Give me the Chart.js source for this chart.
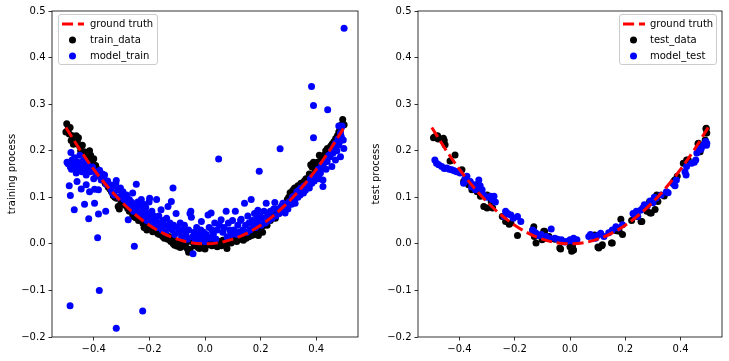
<!DOCTYPE html>
<html><head><meta charset="utf-8">
<script src="https://cdn.jsdelivr.net/npm/chart.js@4/dist/chart.umd.min.js"></script>
<style>
html,body{margin:0;padding:0;background:#fff;}
#wrap{position:relative;width:729px;height:361px;overflow:hidden;background:#fff;}
canvas{position:absolute;top:0;}
.legend{position:absolute;border:1px solid #cccccc;border-radius:3px;background:rgba(255,255,255,0.8);font:10px "DejaVu Sans",sans-serif;color:#000;box-sizing:border-box;}
.row{position:absolute;left:0;width:100%;height:16px;}
.row svg{position:absolute;left:3px;top:0;}
.row span{position:absolute;top:0;line-height:16px;white-space:nowrap;}
</style></head>
<body>
<div id="wrap">
<canvas id="c1" width="364" height="361" style="left:0;width:364px;height:361px"></canvas>
<canvas id="c2" width="365" height="361" style="left:364px;width:365px;height:361px"></canvas>
<div class="legend" style="left:58px;top:14px;width:100px;height:51px">
 <div class="row" style="top:1px"><svg width="22" height="16"><line x1="0" y1="8" x2="22" y2="8" stroke="#ff0000" stroke-width="3" stroke-dasharray="11.1,4.8"/></svg><span style="left:31px">ground truth</span></div>
 <div class="row" style="top:17px"><svg width="22" height="16"><circle cx="10.5" cy="8" r="3.5" fill="#000"/></svg><span style="left:31px">train_data</span></div>
 <div class="row" style="top:33px"><svg width="22" height="16"><circle cx="10.5" cy="8" r="3.5" fill="#0000ff"/></svg><span style="left:31px">model_train</span></div>
</div>
<div class="legend" style="left:619px;top:14px;width:98px;height:51px">
 <div class="row" style="top:1px"><svg width="22" height="16"><line x1="0" y1="8" x2="22" y2="8" stroke="#ff0000" stroke-width="3" stroke-dasharray="11.1,4.8"/></svg><span style="left:30px">ground truth</span></div>
 <div class="row" style="top:17px"><svg width="22" height="16"><circle cx="10.5" cy="8" r="3.5" fill="#000"/></svg><span style="left:30px">test_data</span></div>
 <div class="row" style="top:33px"><svg width="22" height="16"><circle cx="10.5" cy="8" r="3.5" fill="#0000ff"/></svg><span style="left:30px">model_test</span></div>
</div>
</div>
<script>
// ---- tick labels ----
const xTicks = [-0.4, -0.2, 0.0, 0.2, 0.4];
const yTicks = [-0.2, -0.1, 0.0, 0.1, 0.2, 0.3, 0.4, 0.5];

// ---- ground truth curve (y = x^2) ----
const gtX = [-0.5,-0.45,-0.4,-0.35,-0.3,-0.25,-0.2,-0.15,-0.1,-0.05,0,0.05,0.1,0.15,0.2,0.25,0.3,0.35,0.4,0.45,0.5];
const gtY = [0.25,0.2025,0.16,0.1225,0.09,0.0625,0.04,0.0225,0.01,0.0025,0,0.0025,0.01,0.0225,0.04,0.0625,0.09,0.1225,0.16,0.2025,0.25];

// ---- training: observed data ----
const trainData = [
[-0.5,0.24],[-0.497,0.258],[-0.492,0.246],[-0.488,0.236],[-0.485,0.25],[-0.481,0.222],[-0.477,0.232],[-0.473,0.214],[-0.469,0.226],[-0.463,0.232],[-0.459,0.22],[-0.455,0.228],[-0.451,0.21],[-0.447,0.2],[-0.441,0.212],[-0.435,0.198],[-0.429,0.19],[-0.425,0.196],[-0.421,0.185],[-0.415,0.2],[-0.411,0.19],[-0.405,0.178],[-0.4,0.183],[-0.393,0.168],[-0.387,0.16],[-0.381,0.152],[-0.375,0.148],[-0.37,0.145],[-0.365,0.138],[-0.359,0.13],[-0.353,0.128],[-0.348,0.122],[-0.342,0.118],[-0.336,0.112],[-0.33,0.104],[-0.324,0.1],[-0.318,0.098],[-0.312,0.08],[-0.308,0.075],[-0.302,0.088],[-0.296,0.085],[-0.29,0.09],[-0.284,0.082],[-0.278,0.076],[-0.272,0.07],[-0.266,0.072],[-0.26,0.062],[-0.255,0.058],[-0.249,0.056],[-0.244,0.064],[-0.239,0.05],[-0.233,0.058],[-0.227,0.052],[-0.223,0.044],[-0.219,0.035],[-0.214,0.04],[-0.209,0.03],[-0.204,0.046],[-0.199,0.038],[-0.193,0.032],[-0.188,0.026],[-0.182,0.034],[-0.176,0.03],[-0.17,0.022],[-0.164,0.02],[-0.158,0.026],[-0.152,0.016],[-0.146,0.012],[-0.14,0.02],[-0.134,0.01],[-0.128,0.015],[-0.123,0.005],[-0.118,0.01],[-0.114,0.0],[-0.109,-0.003],[-0.104,0.006],[-0.099,-0.005],[-0.094,0.0],[-0.089,-0.008],[-0.084,0.01],[-0.079,0.004],[-0.074,-0.005],[-0.069,0.002],[-0.064,-0.01],[-0.059,-0.018],[-0.054,-0.012],[-0.049,0.005],[-0.044,0.01],[-0.039,-0.004],[-0.035,0.0],[-0.03,0.008],[-0.025,-0.008],[-0.02,-0.01],[-0.015,0.002],[-0.01,-0.006],[-0.005,0.01],[0.0,-0.011],[0.005,0.004],[0.01,-0.002],[0.015,0.0],[0.02,0.008],[0.025,-0.004],[0.03,0.004],[0.035,-0.002],[0.039,0.01],[0.044,-0.006],[0.049,0.005],[0.054,0.0],[0.059,-0.004],[0.064,0.008],[0.069,0.003],[0.074,0.0],[0.079,-0.01],[0.084,0.006],[0.089,0.012],[0.094,0.002],[0.099,0.006],[0.104,0.01],[0.109,0.018],[0.114,0.005],[0.118,0.012],[0.123,0.02],[0.128,0.01],[0.133,0.016],[0.138,0.008],[0.143,0.022],[0.148,0.012],[0.153,0.02],[0.158,0.015],[0.163,0.03],[0.168,0.018],[0.173,0.025],[0.178,0.02],[0.183,0.03],[0.188,0.022],[0.192,0.018],[0.197,0.028],[0.202,0.035],[0.207,0.025],[0.212,0.04],[0.217,0.045],[0.223,0.04],[0.229,0.055],[0.235,0.05],[0.241,0.056],[0.247,0.06],[0.253,0.055],[0.259,0.07],[0.265,0.065],[0.27,0.075],[0.276,0.07],[0.281,0.085],[0.286,0.08],[0.292,0.088],[0.296,0.095],[0.301,0.1],[0.306,0.11],[0.311,0.105],[0.316,0.115],[0.322,0.12],[0.328,0.11],[0.334,0.125],[0.34,0.12],[0.345,0.13],[0.351,0.128],[0.357,0.135],[0.363,0.14],[0.369,0.14],[0.375,0.15],[0.38,0.17],[0.385,0.165],[0.39,0.175],[0.395,0.16],[0.4,0.168],[0.405,0.175],[0.411,0.19],[0.417,0.18],[0.422,0.185],[0.428,0.19],[0.434,0.2],[0.44,0.205],[0.446,0.196],[0.452,0.21],[0.458,0.215],[0.464,0.22],[0.47,0.226],[0.476,0.232],[0.481,0.24],[0.486,0.246],[0.49,0.255],[0.495,0.267],[0.5,0.256]
];

// ---- training: model output ----
const modelTrain = [
[-0.496,0.175],[-0.492,0.172],[-0.488,0.125],[-0.485,-0.133],[-0.484,0.104],[-0.484,0.165],[-0.482,0.196],[-0.48,0.16],[-0.478,0.18],[-0.474,0.17],[-0.47,0.073],[-0.469,0.185],[-0.466,0.165],[-0.463,0.152],[-0.46,0.134],[-0.457,0.175],[-0.454,0.16],[-0.45,0.19],[-0.447,0.17],[-0.445,0.118],[-0.442,0.155],[-0.438,0.178],[-0.433,0.085],[-0.433,0.166],[-0.429,0.16],[-0.427,0.148],[-0.427,0.127],[-0.422,0.17],[-0.418,0.054],[-0.415,0.112],[-0.412,0.155],[-0.409,0.159],[-0.404,0.165],[-0.4,0.14],[-0.397,0.087],[-0.397,0.117],[-0.393,0.155],[-0.391,0.145],[-0.386,0.013],[-0.383,0.064],[-0.383,0.116],[-0.38,-0.1],[-0.379,0.158],[-0.373,0.137],[-0.369,0.15],[-0.365,0.14],[-0.361,0.148],[-0.357,0.07],[-0.355,0.128],[-0.35,0.135],
[-0.342,0.127],[-0.338,0.118],[-0.333,0.11],[-0.33,0.125],[-0.326,0.105],[-0.321,0.13],[-0.319,-0.181],[-0.319,0.136],[-0.313,0.116],[-0.309,0.1],[-0.304,0.12],[-0.3,0.105],[-0.295,0.112],[-0.291,0.095],[-0.286,0.1],[-0.282,0.105],[-0.278,0.085],[-0.276,0.052],[-0.272,0.095],[-0.268,0.078],[-0.265,0.09],[-0.26,0.109],[-0.257,0.07],[-0.254,-0.005],[-0.252,0.085],[-0.247,0.128],[-0.245,0.075],[-0.242,0.09],[-0.237,0.065],[-0.233,0.08],[-0.229,0.095],[-0.225,0.07],[-0.224,-0.144],[-0.221,0.085],[-0.217,0.06],[-0.213,0.078],[-0.209,0.05],[-0.205,0.065],[-0.201,0.09],[-0.199,0.098],
[-0.195,0.055],[-0.191,0.07],[-0.188,0.045],[-0.184,0.06],[-0.18,0.04],[-0.176,0.052],[-0.174,0.095],[-0.17,0.035],[-0.166,0.06],[-0.162,0.045],[-0.158,0.073],[-0.154,0.03],[-0.15,0.05],[-0.146,0.04],[-0.142,0.025],[-0.138,0.055],[-0.133,0.08],[-0.13,0.035],[-0.126,0.045],[-0.121,0.091],[-0.118,0.03],[-0.115,0.12],[-0.113,0.04],[-0.109,0.02],[-0.104,0.065],[-0.099,0.035],[-0.094,0.025],[-0.089,0.045],[-0.084,0.015],[-0.079,0.03],[-0.074,0.04],[-0.069,0.02],[-0.064,0.01],[-0.059,0.03],[-0.054,0.065],[-0.051,0.07],[-0.049,0.057],[-0.045,0.015],[-0.043,-0.021],[-0.039,0.025],[-0.035,0.005],[-0.03,0.035],[-0.025,0.02],[-0.02,0.01],[-0.015,0.03],[-0.013,0.048],[-0.01,0.015],[-0.005,0.025],[0.0,0.005],[0.005,0.02],[0.011,0.062],[0.015,0.035],[0.02,0.012],[0.022,0.066],[0.025,0.03],[0.03,0.02],[0.035,0.045],[0.039,0.01],[0.044,0.03],[0.049,0.182],[0.052,0.04],[0.058,0.052],[0.064,0.025],[0.069,0.035],[0.076,0.07],[0.079,0.015],[0.084,0.045],[0.089,0.03],[0.094,0.02],[0.099,0.05],
[0.104,0.03],[0.109,0.07],[0.114,0.02],[0.118,0.04],[0.123,0.025],[0.128,0.05],[0.13,0.053],[0.136,0.03],[0.142,0.087],[0.146,0.04],[0.15,0.025],[0.154,0.06],[0.158,0.045],[0.162,0.03],[0.166,0.095],[0.17,0.05],[0.174,0.04],[0.178,0.065],[0.182,0.035],[0.186,0.055],[0.19,0.072],[0.192,0.045],[0.195,0.156],[0.197,0.06],[0.202,0.04],[0.207,0.055],[0.212,0.07],[0.217,0.045],[0.22,0.087],[0.225,0.06],[0.229,0.05],[0.235,0.07],[0.241,0.055],[0.247,0.075],[0.251,0.089],[0.255,0.06],[0.261,0.075],[0.266,0.065],[0.27,0.204],[0.274,0.08],[0.28,0.087],[0.284,0.07],[0.288,0.066],[0.294,0.08],
[0.298,0.075],[0.302,0.09],[0.306,0.091],[0.311,0.085],[0.314,0.1],[0.318,0.102],[0.322,0.095],[0.324,0.087],[0.328,0.105],[0.33,0.112],[0.334,0.1],[0.338,0.115],[0.342,0.105],[0.345,0.12],[0.35,0.11],[0.354,0.109],[0.357,0.125],[0.361,0.115],[0.366,0.123],[0.37,0.13],[0.375,0.12],[0.379,0.14],[0.383,0.338],[0.384,0.13],[0.388,0.145],[0.39,0.297],[0.39,0.228],[0.393,0.135],[0.397,0.15],[0.403,0.145],[0.407,0.16],[0.411,0.14],[0.415,0.152],[0.42,0.17],[0.424,0.137],[0.424,0.123],[0.427,0.163],[0.431,0.175],[0.435,0.16],[0.439,0.177],[0.441,0.288],[0.445,0.19],[0.45,0.187],[0.454,0.2],[0.456,0.166],[0.46,0.195],[0.464,0.21],[0.469,0.18],[0.469,0.216],[0.474,0.2],[0.478,0.225],[0.481,0.213],[0.481,0.253],[0.484,0.22],[0.487,0.187],[0.487,0.238],[0.49,0.23],[0.493,0.253],[0.497,0.223],[0.499,0.205],[0.5,0.463]
];

// ---- test: observed data ----
const testData = [
[-0.494,0.228],[-0.489,0.23],[-0.479,0.232],[-0.477,0.225],[-0.458,0.227],[-0.455,0.222],[-0.452,0.213],[-0.434,0.178],[-0.416,0.191],[-0.391,0.159],[-0.385,0.134],[-0.367,0.127],[-0.355,0.116],[-0.336,0.112],[-0.333,0.128],[-0.324,0.102],[-0.312,0.08],[-0.3,0.077],[-0.3,0.105],[-0.285,0.091],[-0.28,0.077],[-0.245,0.059],[-0.233,0.048],[-0.22,0.042],[-0.214,0.045],[-0.19,0.018],[-0.135,0.03],[-0.131,0.037],[-0.129,0.016],[-0.123,0.002],[-0.101,0.009],[-0.095,0.027],[-0.092,0.027],[-0.086,0.012],[-0.076,0.016],[-0.055,0.01],[-0.037,-0.009],[-0.034,-0.011],[0.0,-0.006],[0.006,-0.016],[0.009,-0.005],[0.013,-0.013],[0.089,0.019],[0.101,-0.007],[0.104,-0.009],[0.115,-0.004],[0.117,-0.002],[0.15,0.002],[0.153,0.002],[0.168,0.028],[0.178,0.027],[0.184,0.053],[0.19,0.02],[0.223,0.05],[0.245,0.059],[0.257,0.048],[0.26,0.048],[0.278,0.07],[0.288,0.091],[0.29,0.066],[0.294,0.066],[0.308,0.074],[0.314,0.105],[0.318,0.091],[0.341,0.103],[0.375,0.134],[0.379,0.137],[0.388,0.145],[0.41,0.173],[0.422,0.18],[0.428,0.18],[0.463,0.215],[0.465,0.216],[0.471,0.198],[0.473,0.209],[0.489,0.223],[0.492,0.247],[0.493,0.248],[0.495,0.238]
];

// ---- test: model output ----
const modelTest = [
[-0.489,0.18],[-0.483,0.173],[-0.475,0.17],[-0.464,0.166],[-0.455,0.162],[-0.446,0.163],[-0.437,0.16],[-0.428,0.159],[-0.419,0.157],[-0.41,0.155],[-0.398,0.152],[-0.385,0.13],[-0.38,0.14],[-0.373,0.145],[-0.361,0.134],[-0.356,0.122],[-0.348,0.127],[-0.342,0.116],[-0.33,0.137],[-0.325,0.125],[-0.318,0.116],[-0.312,0.105],[-0.3,0.1],[-0.287,0.102],[-0.281,0.095],[-0.275,0.102],[-0.27,0.09],[-0.238,0.059],[-0.233,0.07],[-0.225,0.065],[-0.214,0.062],[-0.205,0.055],[-0.19,0.059],[-0.178,0.048],[-0.135,0.03],[-0.128,0.025],[-0.123,0.023],[-0.115,0.018],[-0.104,0.02],[-0.095,0.015],[-0.086,0.016],[-0.075,0.012],[-0.068,0.032],[-0.055,0.012],[-0.045,0.01],[-0.031,0.009],[-0.02,0.004],[-0.013,0.005],[0.0,0.009],[0.008,0.006],[0.013,0.012],[0.025,0.009],[0.068,0.016],[0.074,0.02],[0.085,0.015],[0.092,0.012],[0.1,0.018],[0.111,0.023],[0.123,0.016],[0.14,0.024],[0.153,0.03],[0.166,0.037],[0.175,0.034],[0.19,0.041],[0.228,0.065],[0.233,0.062],[0.24,0.07],[0.245,0.059],[0.255,0.072],[0.263,0.077],[0.269,0.084],[0.28,0.082],[0.29,0.092],[0.3,0.088],[0.305,0.1],[0.312,0.098],[0.33,0.105],[0.349,0.112],[0.355,0.11],[0.373,0.13],[0.375,0.128],[0.38,0.125],[0.385,0.137],[0.416,0.155],[0.42,0.148],[0.422,0.166],[0.44,0.173],[0.45,0.175],[0.455,0.18],[0.459,0.195],[0.465,0.205],[0.471,0.202],[0.475,0.205],[0.483,0.212],[0.488,0.215],[0.491,0.22],[0.494,0.212],[0.495,0.216]
];

const toPts = arr => arr.map(p => ({x: p[0], y: p[1]}));
const gtPts = gtX.map((x, i) => ({x: x, y: gtY[i]}));

function fmt(v) {
  const s = Math.abs(v).toFixed(1);
  return v < -1e-9 ? '\u2212' + s : s;
}

const framePlugin = {
  id: 'frame',
  afterDraw(chart) {
    const {ctx, chartArea: a} = chart;
    ctx.save();
    ctx.strokeStyle = '#000';
    ctx.lineWidth = 0.8;
    ctx.strokeRect(a.left, a.top, a.right - a.left, a.bottom - a.top);
    ctx.restore();
  }
};

const FONT = {family: 'DejaVu Sans', size: 10};

function makeChart(id, dataPts, modelPts, yTitle, yWidth, padRight) {
  return new Chart(document.getElementById(id), {
    type: 'scatter',
    data: {
      datasets: [
        {label: 'ground truth', data: gtPts, showLine: true, pointRadius: 0, borderColor: '#ff0000',
         borderWidth: 3, borderDash: [11.1, 4.8], cubicInterpolationMode: 'monotone', fill: false, order: 0},
        {label: 'data', data: toPts(dataPts), pointRadius: 3.5, borderWidth: 0,
         backgroundColor: '#000000', pointBackgroundColor: '#000000', order: 2},
        {label: 'model', data: toPts(modelPts), pointRadius: 3.5, borderWidth: 0,
         backgroundColor: '#0000ff', pointBackgroundColor: '#0000ff', order: 1}
      ]
    },
    options: {
      responsive: false,
      animation: false,
      devicePixelRatio: 1,
      events: [],
      layout: {padding: {top: 11, right: padRight, left: 0, bottom: 0}},
      plugins: {legend: {display: false}, tooltip: {enabled: false}},
      scales: {
        x: {
          type: 'linear', min: -0.55, max: 0.55,
          afterBuildTicks: s => { s.ticks = xTicks.map(v => ({value: v})); },
          afterFit: s => { s.height = 24; },
          ticks: {callback: v => fmt(v), font: FONT, color: '#000', padding: 3, maxRotation: 0, autoSkip: false},
          grid: {display: true, drawOnChartArea: false, drawTicks: true, tickLength: 3.5, color: '#000', lineWidth: 0.8},
          border: {display: false}
        },
        y: {
          type: 'linear', min: -0.2, max: 0.5,
          afterBuildTicks: s => { s.ticks = yTicks.map(v => ({value: v})); },
          afterFit: s => { s.width = yWidth; },
          ticks: {callback: v => fmt(v), font: FONT, color: '#000', padding: 3, autoSkip: false},
          grid: {display: true, drawOnChartArea: false, drawTicks: true, tickLength: 3.5, color: '#000', lineWidth: 0.8},
          border: {display: false},
          title: {display: true, text: yTitle, font: FONT, color: '#000', padding: {top: 6, bottom: 0}}
        }
      }
    },
    plugins: [framePlugin]
  });
}

makeChart('c1', trainData, modelTrain, 'training process', 52, 6);
makeChart('c2', testData, modelTest, 'test process', 54, 7);
</script>
</body></html>
